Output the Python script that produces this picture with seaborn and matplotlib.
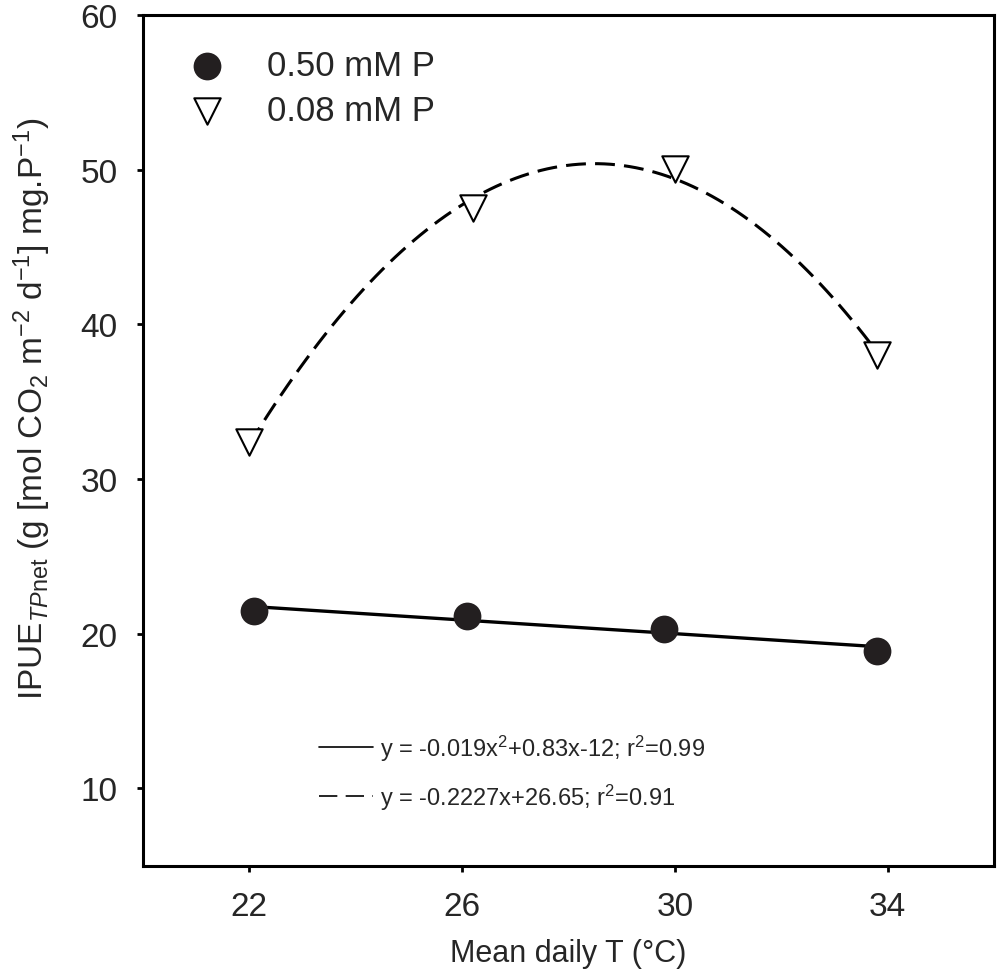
import matplotlib
matplotlib.use('Agg')
import matplotlib.pyplot as plt
import numpy as np
import pandas as pd
import seaborn as sns

from matplotlib.lines import Line2D

# values
temp_high_p = [22.09, 26.1, 29.8, 33.8]
ipue_high_p = [21.47, 21.14, 20.33, 18.88]
temp_low_p = [22.0, 26.21, 30.0, 33.8]
ipue_low_p = [32.41, 47.54, 50.04, 38.0]

series_labels = ['0.50 mM P', '0.08 mM P']
eq_labels = [r'y = -0.019x$^2$+0.83x-12; r$^2$=0.99',
             r'y = -0.2227x+26.65; r$^2$=0.91']
x_ticks = [22, 26, 30, 34]
y_ticks = [10, 20, 30, 40, 50, 60]

df = pd.DataFrame({
    'T': temp_high_p + temp_low_p,
    'IPUE': ipue_high_p + ipue_low_p,
    'P': [series_labels[0]] * 4 + [series_labels[1]] * 4,
})
high = df[df['P'] == series_labels[0]]
low = df[df['P'] == series_labels[1]]

sns.set_style('ticks')
plt.rcParams['font.family'] = ['Liberation Sans', 'DejaVu Sans']
plt.rcParams['mathtext.fontset'] = 'custom'
plt.rcParams['mathtext.rm'] = 'Liberation Sans'
plt.rcParams['mathtext.it'] = 'Liberation Sans:italic'
plt.rcParams['mathtext.bf'] = 'Liberation Sans:bold'

fig = plt.figure(figsize=(10, 9.79), dpi=100)
ax = fig.add_axes([0.1427, 0.1147, 0.8513, 0.869])

# fitted lines
sns.regplot(data=high, x='T', y='IPUE', order=1, ci=None, scatter=False, ax=ax,
            line_kws=dict(color='black', lw=2.4, zorder=2))
sns.regplot(data=low, x='T', y='IPUE', order=2, ci=None, scatter=False, ax=ax,
            line_kws=dict(color='black', lw=2.2, dashes=(6.5, 3), zorder=2))

# points
sns.scatterplot(data=high, x='T', y='IPUE', marker='o', s=20 ** 2, color='#231f20',
                edgecolor='#231f20', linewidth=0, label=series_labels[0], ax=ax, zorder=3)
sns.scatterplot(data=low, x='T', y='IPUE', marker='v', s=19 ** 2, facecolor='white',
                edgecolor='black', linewidth=1.5, label=series_labels[1], ax=ax, zorder=3)

ax.set_xlim(20, 36)
ax.set_ylim(5, 60)
ax.set_xticks(x_ticks)
ax.set_yticks(y_ticks)
ax.tick_params(direction='out', length=4, width=2, labelsize=24, color='black')
ax.tick_params(axis='y', pad=14)
ax.tick_params(axis='x', pad=14)
for side in ax.spines.values():
    side.set_linewidth(2.2)
    side.set_color('black')

ax.set_xlabel('Mean daily T (°C)', fontsize=22, labelpad=12)
ax.set_ylabel(r'IPUE$_{T\mathit{P}\mathrm{net}}$ (g [mol CO$_2$ m$^{-2}$ d$^{-1}$] mg.P$^{-1}$)',
              fontsize=24)
ax.yaxis.set_label_coords(-0.105, 0.538)

# series legend
leg1 = ax.legend(loc='upper left', bbox_to_anchor=(0.018, 0.976), frameon=False,
                 fontsize=25, handletextpad=0.75, labelspacing=0.35, borderaxespad=0)
ax.add_artist(leg1)

# equation legend
eq_handles = [Line2D([0], [0], color='black', lw=1.2),
              Line2D([0], [0], color='black', lw=1.2, dashes=(11, 5))]
ax.legend(eq_handles, eq_labels, loc='center left', bbox_to_anchor=(0.196, 0.11),
          frameon=False, fontsize=17, handlelength=2.3, handletextpad=0.3,
          labelspacing=0.8, borderaxespad=0)

fig.savefig('out.png', dpi=100)
